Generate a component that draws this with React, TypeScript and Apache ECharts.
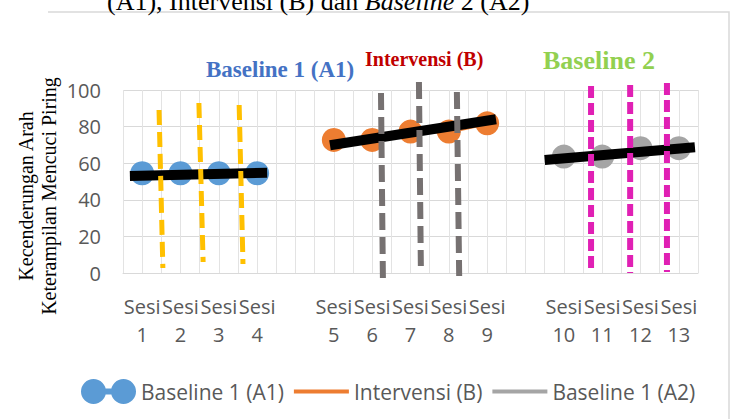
import React, { useEffect, useRef } from "react";
import * as echarts from "echarts";

const categories = [
  "Sesi\n1", "Sesi\n2", "Sesi\n3", "Sesi\n4", "",
  "Sesi\n5", "Sesi\n6", "Sesi\n7", "Sesi\n8", "Sesi\n9", "",
  "Sesi\n10", "Sesi\n11", "Sesi\n12", "Sesi\n13",
];
const baselineA1 = [54.5, 54.5, 54.5, 54.5, null, null, null, null, null, null, null, null, null, null, null];
const intervensiB = [null, null, null, null, null, 72.7, 72.7, 77.3, 77.3, 81.8, null, null, null, null, null];
const baselineA2 = [null, null, null, null, null, null, null, null, null, null, null, 63.6, 63.6, 68.2, 68.2];

const yTicks = { min: 0, max: 100, interval: 20 };

// trend lines, in (category position, value)
const trendA1 = [[0.18, 53.0], [3.76, 54.8]];
const trendB = [[5.4, 69.8], [9.73, 84.0]];
const trendA2 = [[11.0, 61.7], [14.92, 68.7]];

// dashed annotation lines
const yellowDashes = [
  [[0.94, 89.1], [1.04, 2.7]],
  [[1.98, 92.9], [2.09, 6.0]],
  [[3.03, 91.8], [3.13, 4.9]],
];
const grayDashes = [
  [[6.73, 98.4], [6.78, -2.7]],
  [[7.72, 104.4], [7.77, 3.8]],
  [[8.71, 98.9], [8.77, -1.6]],
];
const magentaDashes = [
  [[12.21, 102.2], [12.21, 0]],
  [[13.23, 102.7], [13.23, 0]],
  [[14.19, 103.8], [14.19, 0.5]],
];

const legendNames = ["Baseline 1 (A1)", "Intervensi (B)", "Baseline 1 (A2)"];
const phaseTitles = ["Baseline 1 (A1)", "Intervensi (B)", "Baseline 2"];
const axisTitle = "Kecenderungan Arah\nKeterampilan Mencuci Piring";
const topCaption = "(A1), Intervensi (B) dan {i|Baseline} 2 (A2)";

const SANS = "'Open Sans', 'Noto Sans', sans-serif";
const SERIF = "'Liberation Serif', 'Times New Roman', serif";

export default function App() {
  const ref = useRef<HTMLDivElement>(null);
  useEffect(() => {
    document.body.style.margin = "0";
    const chart = echarts.init(ref.current!, null, { renderer: "svg" });

    const dashSeries = (lines: number[][][], color: string, width: number, dash: number[]) =>
      lines.map((d, i) => ({
        type: "line",
        name: "dash-" + color + i,
        xAxisIndex: 1,
        data: d,
        symbol: "none",
        clip: false,
        silent: true,
        z: 10,
        lineStyle: { color, width, type: dash },
      }));

    const trendSeries = (d: number[][], i: number) => ({
      type: "line",
      name: "trend" + i,
      xAxisIndex: 1,
      data: d,
      symbol: "none",
      clip: false,
      silent: true,
      z: 5,
      lineStyle: { color: "#000000", width: 10, cap: "butt" },
    });

    const blueIcon =
      "path://M0 12.5a12.5 12.5 0 1 1 25 0a12.5 12.5 0 1 1 -25 0Z M12 9.5h31v6h-31Z M30 12.5a12.5 12.5 0 1 1 25 0a12.5 12.5 0 1 1 -25 0Z";
    const lineIcon = "path://M0 0h55v4h-55Z";

    chart.setOption({
      animation: false,
      backgroundColor: "#ffffff",
      grid: { left: 123, right: 34, top: 90, bottom: 146, containLabel: false },
      legend: {
        left: 76,
        top: 374,
        itemWidth: 55,
        itemHeight: 25,
        itemGap: 10,
        textStyle: { fontFamily: SANS, fontSize: 21, color: "#595959" },
        data: [
          { name: legendNames[0], icon: blueIcon },
          { name: legendNames[1], icon: lineIcon },
          { name: legendNames[2], icon: lineIcon },
        ],
      },
      xAxis: [
        {
          type: "category",
          data: categories,
          boundaryGap: true,
          axisTick: { show: false },
          axisLine: { lineStyle: { color: "#d9d9d9" } },
          splitLine: { show: false },
          axisLabel: {
            interval: 0,
            margin: 19,
            fontFamily: SANS,
            fontSize: 20,
            lineHeight: 28,
            color: "#595959",
          },
        },
        {
          type: "value",
          min: 0,
          max: 15,
          interval: 0.5,
          position: "bottom",
          axisLine: { show: false },
          axisTick: { show: false },
          axisLabel: { show: false },
          splitLine: { show: true, lineStyle: { color: "#e3e3e3", width: 1 } },
        },
      ],
      yAxis: {
        type: "value",
        min: yTicks.min,
        max: yTicks.max,
        interval: yTicks.interval,
        axisLine: { show: false },
        axisTick: { show: false },
        axisLabel: { margin: 22, fontFamily: SANS, fontSize: 20, color: "#595959" },
        splitLine: { lineStyle: { color: "#d9d9d9", width: 1 } },
      },
      graphic: [
        {
          type: "polyline",
          shape: { points: [[48, 12], [729, 12], [729, 430]] },
          style: { fill: "none", stroke: "#d9d9d9", lineWidth: 1.5 },
          z: -10,
          silent: true,
        },
        {
          type: "text",
          x: 107,
          y: 14,
          style: {
            text: topCaption,
            fontFamily: SERIF,
            fontSize: 26,
            fill: "#000000",
            verticalAlign: "bottom",
            rich: { i: { fontStyle: "italic", fontFamily: SERIF, fontSize: 26, fill: "#000000" } },
          },
        },
        {
          type: "text",
          x: 206,
          y: 69.5,
          style: { text: phaseTitles[0], fontFamily: SERIF, fontWeight: "bold", fontSize: 23, fill: "#4472C4", verticalAlign: "middle" },
        },
        {
          type: "text",
          x: 365,
          y: 59,
          style: { text: phaseTitles[1], fontFamily: SERIF, fontWeight: "bold", fontSize: 20, fill: "#C00000", verticalAlign: "middle" },
        },
        {
          type: "text",
          x: 543,
          y: 60,
          style: { text: phaseTitles[2], fontFamily: SERIF, fontWeight: "bold", fontSize: 26, fill: "#92D050", verticalAlign: "middle" },
        },
        {
          type: "text",
          x: 37,
          y: 196,
          rotation: Math.PI / 2,
          style: {
            text: axisTitle,
            fontFamily: SERIF,
            fontSize: 20,
            lineHeight: 23,
            fill: "#000000",
            align: "center",
            verticalAlign: "middle",
          },
        },
      ],
      series: [
        {
          type: "line",
          name: legendNames[0],
          data: baselineA1,
          symbol: "circle",
          symbolSize: 24,
          itemStyle: { color: "#5B9BD5" },
          lineStyle: { color: "#5B9BD5", width: 4 },
          z: 3,
        },
        {
          type: "line",
          name: legendNames[1],
          data: intervensiB,
          symbol: "circle",
          symbolSize: 24,
          itemStyle: { color: "#ED7D31" },
          lineStyle: { color: "#ED7D31", width: 4 },
          z: 3,
        },
        {
          type: "line",
          name: legendNames[2],
          data: baselineA2,
          symbol: "circle",
          symbolSize: 24,
          itemStyle: { color: "#A5A5A5" },
          lineStyle: { color: "#A5A5A5", width: 4 },
          z: 3,
        },
        trendSeries(trendA1, 0),
        trendSeries(trendB, 1),
        trendSeries(trendA2, 2),
        ...dashSeries(yellowDashes, "#FFC000", 5, [15, 7]),
        ...dashSeries(grayDashes, "#767171", 6, [17, 7]),
        ...dashSeries(magentaDashes, "#E020B4", 6, [12, 5]),
      ],
    });
    return () => chart.dispose();
  }, []);
  return <div ref={ref} style={{ width: 732, height: 419 }} />;
}
